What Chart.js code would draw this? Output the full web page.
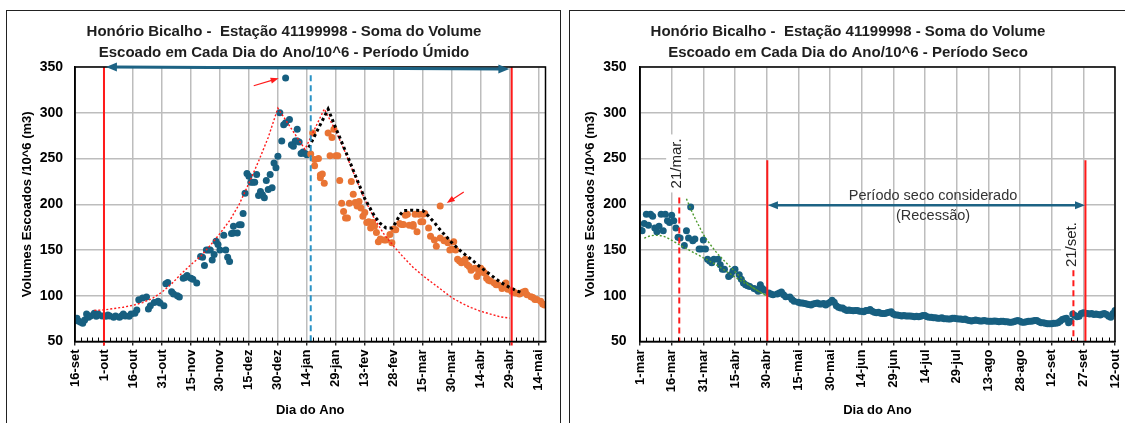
<!DOCTYPE html>
<html>
<head>
<meta charset="utf-8">
<script src="https://cdn.jsdelivr.net/npm/chart.js@4.4.0/dist/chart.umd.min.js"></script>
<style>
  html, body { margin: 0; padding: 0; background: #fff; }
  body { width: 1125px; height: 423px; position: relative; overflow: hidden; }
  canvas { position: absolute; top: 0; }
  #wet { left: 0; }
  #dry { left: 563px; }
  .panel { position: absolute; border: 1.5px solid #222; box-sizing: border-box; pointer-events: none; }
</style>
</head>
<body>
<canvas id="wet" width="563" height="423"></canvas>
<canvas id="dry" width="575" height="423"></canvas>
<div class="panel" style="left:6px;top:10px;width:555px;height:440px;"></div>
<div class="panel" style="left:569px;top:10px;width:570px;height:440px;"></div>
<script>
// ---------- Período úmido (day 0 = 16-set) ----------
const wetTickDays = [0, 15, 30, 45, 60, 75, 90, 105, 120, 135, 150, 165, 180, 195, 210, 225, 240];
const wetTickLabels = ['16-set', '1-out', '16-out', '31-out', '15-nov', '30-nov', '15-dez', '30-dez',
  '14-jan', '29-jan', '13-fev', '28-fev', '15-mar', '30-mar', '14-abr', '29-abr', '14-mai'];

const wetBlueDays = [0, 1, 2, 3, 4, 5, 6, 7, 8, 10, 11, 12, 14, 16, 17, 18, 20, 21, 23, 24, 25, 26, 28, 29, 31,
  32, 33, 35, 37, 38, 39, 41, 43, 44, 46, 47, 48, 50, 51, 53, 54, 56, 57, 58, 60, 61, 63, 65, 66, 67, 68, 69, 70,
  71, 72, 73, 74, 75, 77, 78, 79, 80, 81, 82, 82, 84, 85, 86, 87, 88, 89, 90, 91, 92, 93, 94, 95, 96, 97, 98, 99,
  100, 101, 102, 103, 104, 105, 106, 107, 108, 109, 109, 111, 112, 113, 114, 115, 115, 116, 117, 118, 119, 120];
const wetBlueVolumes = [73, 75.5, 72, 71, 70, 73.5, 80, 76.5, 78, 81, 77.5, 80, 78, 77.5, 79, 78, 76.5, 78, 76.5,
  78, 80, 78, 77.5, 80, 81, 84.5, 95.5, 97.5, 98.5, 85.5, 89, 92.5, 94, 92, 89, 113, 114.5, 104.5, 102, 100, 98.5,
  119, 120, 122, 119, 118, 114, 143, 142, 133, 150, 150, 150, 139, 145, 159.5, 156, 150, 166, 150, 142, 137.5,
  168, 168.5, 176, 168.5, 177.5, 177.5, 190, 212, 233.5, 230.5, 224, 224, 224, 232.5, 209.5, 214, 210.5, 207,
  226, 216, 232.5, 218, 245, 240, 252.5, 300, 269, 287, 338, 289, 292.5, 265, 263.5, 269, 282, 269, 268, 255.5,
  257, 255.5, 254];

const wetOrangeDays = [122, 123, 124, 124, 126, 127, 127, 128, 129, 131, 132, 133, 134, 135, 136, 137, 138, 139,
  140, 141, 142, 143, 144, 145, 146, 147, 148, 149, 150, 151, 152, 153, 154, 155, 156, 157, 158, 160, 161, 163,
  164, 165, 166, 168, 169, 170, 171, 172, 173, 175, 175, 176, 177, 178, 179, 180, 180, 181, 183, 184, 186, 187,
  189, 189, 191, 192, 193, 194, 195, 196, 197, 198, 199, 200, 201, 202, 203, 204, 205, 207, 208, 209, 210, 211,
  212, 213, 214, 215, 217, 218, 219, 221, 221, 223, 223, 224, 226, 227, 228, 230, 231, 232, 233, 234, 236, 237,
  238, 239, 241, 242, 243];
const wetOrangeVolumes = [255, 278, 249, 242, 250, 229, 232, 233, 223, 278, 253, 273, 282, 253, 253, 226, 201,
  192, 185, 185, 201, 225, 211, 202, 198, 203, 196, 187, 191, 180, 181, 174, 180, 176, 169, 159, 162, 161, 161,
  167, 158, 173, 172, 179, 178, 178, 188, 189, 177, 176, 178, 189, 170, 189, 181, 189, 181, 190, 174, 165, 161,
  154, 198, 163, 160, 161, 158, 150, 151, 159, 150, 140, 138, 136, 138, 140, 134, 132, 128, 130, 121, 125, 130,
  128, 125, 119, 117, 116, 114, 112, 112, 110, 108, 114, 110, 107, 105, 104, 103, 102, 103, 104, 105, 101, 99,
  98, 96, 96, 94, 91, 90];

// red dotted trend (rise, double peak, recession)
const wetTrendDays = [10, 15, 20, 25, 30, 35, 40, 45, 50, 55, 60, 65, 70, 75, 80, 85, 90, 95, 100, 105, 119, 129,
  135, 140, 145, 150, 155, 160, 165, 170, 175, 180, 185, 190, 195, 200, 205, 210, 215, 220, 225];
const wetTrendVolumes = [84, 84.5, 86, 87.5, 89.5, 92.5, 97, 104, 113, 124, 134, 143, 155, 168, 182, 200, 223,
  247, 273, 305, 260, 304, 280, 256, 230, 205, 184, 167, 154, 142, 131, 122, 114, 106, 98, 92, 87, 83, 80, 77, 75.5];

// black dotted upper envelope of the recession
const wetEnvelopeDays = [121, 126, 131, 135, 140, 145, 150, 155, 158, 161, 164, 166, 168, 170, 175, 180, 183, 186,
  189, 192, 195, 200, 205, 210, 215, 220, 225, 229, 232];
const wetEnvelopeVolumes = [262, 283, 304, 283, 258, 232, 206, 187, 179, 174, 174, 180, 188, 193, 193.5, 193, 187,
  180, 172, 165, 158, 148, 140, 131, 123, 115, 109, 105, 103];

const wetLimitDays = [15, 226];   // 1-out and end of the wet period
const wetSplitDay = 122;          // blue / orange split

// ---------- Período seco (day 0 = 1-mar) ----------
const dryTickDays = [0, 15, 30, 45, 60, 75, 90, 105, 120, 135, 150, 165, 180, 195, 210, 225];
const dryTickLabels = ['1-mar', '16-mar', '31-mar', '15-abr', '30-abr', '15-mai', '30-mai', '14-jun', '29-jun',
  '14-jul', '29-jul', '13-ago', '28-ago', '12-set', '27-set', '12-out'];

const dryEarlyDays = [0, 1, 2, 3, 4, 5, 6, 7, 8, 9, 10, 11, 12, 13, 14, 15, 16, 17, 18, 19, 21, 22, 23, 24, 25, 26,
  28, 29, 30, 31, 32, 33, 34, 35, 37, 38, 39, 40, 42, 43, 44, 45, 47, 48, 49, 50, 51, 52, 54, 55, 56, 57, 58, 59,
  61, 62, 63, 65, 66, 67, 68, 69, 71, 72, 73, 75];
const dryEarlyVolumes = [172, 171, 179, 189, 177, 189, 187, 174, 170, 176, 189, 171, 189, 182, 180, 188, 182, 174,
  164, 163, 155, 171, 163, 197, 160, 162, 151, 151, 161, 151, 140, 138, 136, 140, 140, 134, 129, 129, 121, 123,
  127, 129, 123, 118, 114, 112, 111, 110, 108, 107, 105, 112, 108, 106, 103, 102, 101, 102, 103, 104, 101, 99,
  98.5, 96, 94, 93];

// daily volumes from 16-mai (day 76) to 12-out (day 225)
const dryLateStart = 76;
const dryLateVolumes = [
  92, 92, 91.5, 91, 90.5, 90, 91, 91.5, 92, 91,
  91, 91.5, 90, 91.5, 93, 95, 93, 89, 87.5, 86.5,
  86.5, 85, 84, 84.5, 84, 83.5, 84, 84, 83, 83,
  82.5, 84, 84, 85, 83, 82, 81.5, 82, 81, 80.5,
  80.5, 81.5, 82, 82.5, 80, 79, 79, 78.5, 78, 78.5,
  78, 78, 78, 77.5, 77, 77.5, 77, 77.5, 78.5, 78.5,
  77, 76.5, 76.5, 76, 76, 75.5, 75.5, 76, 75, 75,
  74.5, 74.5, 75.5, 75.5, 75, 74.5, 74.5, 74, 74.5, 73.5,
  73, 72.5, 73, 73.5, 73, 72.5, 72.5, 73, 72.5, 72,
  72, 72, 72.5, 72, 71.5, 72, 72, 71.5, 71.5, 71,
  71, 71.5, 72.5, 73, 72, 71, 71, 71.5, 72, 72,
  72.5, 73, 73, 71.5, 70.5, 70.5, 70, 69.5, 69.5, 69.5,
  70, 70, 70.5, 72, 74, 75, 75.5, 70.5, 72, 80,
  78.5, 77, 77.5, 80.5, 81.5, 81, 80.5, 80, 80.5, 79.5,
  80, 79.5, 79, 80, 80.5, 79.5, 77.5, 76.5, 80.5, 84];

// green dotted recession fits
const dryFitLowDays = [2, 5, 8, 11, 14, 17, 20, 24, 28, 32, 36, 40, 44, 48, 52, 56, 60];
const dryFitLowVolumes = [163, 165.5, 166, 165, 162, 158, 154, 149, 144, 139, 134, 128, 122, 116, 111, 105, 100];
const dryFitHighDays = [22, 24, 26, 28, 30, 33, 36, 40, 43, 46, 50, 54, 57, 60];
const dryFitHighVolumes = [206, 195, 185, 176, 167, 157, 148, 138, 131, 124, 115, 108, 104, 100];

const dryLimitDays = [60.3, 211];     // 30-abr and 27-set
const dryEquinoxDays = [18.6, 205.3]; // 21/mar. and 21/set.
const dryEquinoxTops = [207.5, 128];

// ---------- drawing ----------
const FONT = "'Liberation Sans', Arial, sans-serif";
const BLUE = '#175f80';
const ORANGE = '#e97434';
const RED = '#ff1a1a';
const ARROW_BLUE = '#1d6384';
const Y_MIN = 50, Y_MAX = 350;

const xy = (days, vols) => days.map((d, i) => ({ x: d, y: vols[i] }));
const vline = (day, top, bottom) => [{ x: day, y: top }, { x: day, y: bottom }];
const dots = (data, color, order) => ({
  data, backgroundColor: color, borderColor: color, pointRadius: 3.5, pointBorderWidth: 0,
  showLine: false, order
});
const trace = (data, color, width, dash, order, extra) => Object.assign({
  data, borderColor: color, borderWidth: width, borderDash: dash, pointRadius: 0, showLine: true,
  fill: false, order, tension: 0
}, extra || {});

function head(ctx, x, y, ang, len, wid, color) {
  ctx.save();
  ctx.translate(x, y);
  ctx.rotate(ang);
  ctx.beginPath();
  ctx.moveTo(0, 0);
  ctx.lineTo(-len, wid / 2);
  ctx.lineTo(-len, -wid / 2);
  ctx.closePath();
  ctx.fillStyle = color;
  ctx.fill();
  ctx.restore();
}

const overlay = {
  id: 'overlay',
  beforeDatasetsDraw(chart, args, opts) {
    const { ctx, scales: { x, y } } = chart;
    ctx.save();
    for (const n of opts.notes || []) {
      const px = x.getPixelForValue(n.at[0]);
      const py = y.getPixelForValue(n.at[1]);
      if (n.box) {
        ctx.fillStyle = '#fff';
        ctx.fillRect(px - n.box[0] / 2, py - n.box[1] / 2, n.box[0], n.box[1]);
      }
      ctx.save();
      ctx.translate(px, py);
      if (n.rotate) ctx.rotate(-Math.PI / 2);
      ctx.font = n.font;
      ctx.fillStyle = n.color;
      ctx.textAlign = 'center';
      ctx.textBaseline = 'middle';
      ctx.fillText(n.text, 0, 0);
      ctx.restore();
    }
    ctx.restore();
  },
  afterDatasetsDraw(chart, args, opts) {
    const { ctx, chartArea: a, scales: { x, y } } = chart;
    ctx.save();
    // minor tick marks inside the plot, along the date axis
    ctx.strokeStyle = '#000';
    ctx.lineWidth = 1;
    for (let d = opts.minorStep; d < x.max; d += opts.minorStep) {
      if (d % opts.majorStep === 0) continue;
      const px = Math.round(x.getPixelForValue(d)) + 0.5;
      ctx.beginPath();
      ctx.moveTo(px, a.bottom);
      ctx.lineTo(px, a.bottom - 4);
      ctx.stroke();
    }
    // plot frame
    ctx.lineWidth = 1.5;
    ctx.strokeRect(a.left, a.top, a.right - a.left, a.bottom - a.top);
    // arrows
    for (const ar of opts.arrows || []) {
      const x0 = x.getPixelForValue(ar.from[0]), y0 = y.getPixelForValue(ar.from[1]);
      const x1 = x.getPixelForValue(ar.to[0]), y1 = y.getPixelForValue(ar.to[1]);
      const ang = Math.atan2(y1 - y0, x1 - x0);
      const c = Math.cos(ang), s = Math.sin(ang);
      const back = ar.head[0] * 0.7;
      ctx.strokeStyle = ar.color;
      ctx.lineWidth = ar.width;
      ctx.beginPath();
      ctx.moveTo(ar.both ? x0 + c * back : x0, ar.both ? y0 + s * back : y0);
      ctx.lineTo(x1 - c * back, y1 - s * back);
      ctx.stroke();
      head(ctx, x1, y1, ang, ar.head[0], ar.head[1], ar.color);
      if (ar.both) head(ctx, x0, y0, ang + Math.PI, ar.head[0], ar.head[1], ar.color);
    }
    ctx.restore();
  }
};

function buildPanel(id, p) {
  return new Chart(document.getElementById(id), {
    type: 'scatter',
    data: { datasets: p.datasets },
    plugins: [overlay],
    options: {
      responsive: false,
      animation: false,
      events: [],
      layout: { padding: { left: p.padLeft, right: p.padRight, top: 0, bottom: 0 } },
      plugins: {
        legend: { display: false },
        tooltip: { enabled: false },
        title: {
          display: true,
          text: p.title,
          color: '#1e1e1e',
          font: { family: FONT, size: 15, weight: 'bold', lineHeight: 1.4 },
          padding: { top: 21.5, bottom: 3.5 }
        },
        overlay: { minorStep: 3, majorStep: 15, arrows: p.arrows, notes: p.notes }
      },
      scales: {
        x: {
          type: 'linear',
          min: 0,
          max: p.xMax,
          afterBuildTicks: s => { s.ticks = p.tickDays.map(v => ({ value: v })); },
          afterFit: s => { s.height = 81.5; },
          ticks: {
            autoSkip: false,
            minRotation: 90,
            maxRotation: 90,
            padding: 4,
            color: '#000',
            font: { family: FONT, size: 13, weight: 'bold' },
            callback: (v, i) => p.tickLabels[i]
          },
          grid: { color: '#bdbdbd', lineWidth: 1.5, tickLength: 4, tickColor: '#000', tickWidth: 1.2 },
          border: { color: '#000', width: 1.5 },
          title: {
            display: true, text: 'Dia do Ano', color: '#000',
            font: { family: FONT, size: 13, weight: 'bold' },
            padding: { top: 0, bottom: 5 }
          }
        },
        y: {
          min: Y_MIN,
          max: Y_MAX,
          afterFit: s => { s.width = p.yWidth; },
          ticks: {
            stepSize: 50, padding: p.yTickPad, color: '#000',
            font: { family: FONT, size: 14, weight: 'bold' }
          },
          grid: { color: '#bdbdbd', lineWidth: 1.5, drawTicks: false },
          border: { color: '#000', width: 1.5 },
          title: {
            display: true, text: 'Volumes Escoados /10^6 (m3)', color: '#000',
            font: { family: FONT, size: 13, weight: 'bold' },
            padding: { top: p.yTitlePad, bottom: 0 }
          }
        }
      }
    }
  });
}

buildPanel('wet', {
  title: ['Honório Bicalho -  Estação 41199998 - Soma do Volume',
          'Escoado em Cada Dia do Ano/10^6 - Período Úmido'],
  tickDays: wetTickDays,
  tickLabels: wetTickLabels,
  xMax: 243.5,
  padLeft: 22.5,
  padRight: 17.5,
  yWidth: 52.5,
  yTickPad: 12,
  yTitlePad: -3.3,
  datasets: [
    trace(vline(wetLimitDays[0], Y_MAX, 45.5), RED, 2, [], 1, { clip: false }),
    trace(vline(wetLimitDays[1], Y_MAX, 45.5), RED, 2, [], 1, { clip: false }),
    trace(vline(wetSplitDay, 341, Y_MIN), '#2a93c6', 2, [6, 4], 2),
    trace(xy(wetEnvelopeDays, wetEnvelopeVolumes), '#000', 3, [3, 3], 3),
    trace(xy(wetTrendDays, wetTrendVolumes), RED, 1.4, [2, 2], 4),
    dots(xy(wetOrangeDays, wetOrangeVolumes), ORANGE, 5),
    dots(xy(wetBlueDays, wetBlueVolumes), BLUE, 6)
  ],
  arrows: [
    { from: [16, 350], to: [224.8, 347.8], color: ARROW_BLUE, width: 3, head: [11, 9], both: true },
    { from: [92.5, 329.5], to: [105.4, 337.6], color: RED, width: 1.2, head: [8, 6], both: false },
    { from: [201.2, 213.5], to: [192.4, 201.4], color: RED, width: 1.2, head: [8, 6], both: false }
  ],
  notes: []
});

buildPanel('dry', {
  title: ['Honório Bicalho -  Estação 41199998 - Soma do Volume',
          'Escoado em Cada Dia do Ano/10^6 - Período Seco'],
  tickDays: dryTickDays,
  tickLabels: dryTickLabels,
  xMax: 225,
  padLeft: 18,
  padRight: 23,
  yWidth: 59,
  yTickPad: 13.5,
  yTitlePad: 1.2,
  datasets: [
    trace(vline(dryLimitDays[0], 248, Y_MIN), RED, 2, [], 1),
    trace(vline(dryLimitDays[1], 248, Y_MIN), RED, 2, [], 1),
    trace(vline(dryEquinoxDays[0], dryEquinoxTops[0], Y_MIN), RED, 2, [6, 4], 2),
    trace(vline(dryEquinoxDays[1], dryEquinoxTops[1], Y_MIN), RED, 2, [6, 4], 2),
    trace(xy(dryFitLowDays, dryFitLowVolumes), '#4e9a2e', 1.4, [2, 2], 3, { cubicInterpolationMode: 'monotone' }),
    trace(xy(dryFitHighDays, dryFitHighVolumes), '#4e9a2e', 1.4, [2, 2], 3, { cubicInterpolationMode: 'monotone' }),
    dots(xy(dryEarlyDays, dryEarlyVolumes), BLUE, 5),
    dots(dryLateVolumes.map((v, i) => ({ x: dryLateStart + i, y: v })), BLUE, 5)
  ],
  arrows: [
    { from: [60.6, 199], to: [210.8, 199], color: ARROW_BLUE, width: 2.5, head: [10, 8], both: true }
  ],
  notes: [
    { text: '21/mar.', at: [17.6, 244.6], rotate: true, box: [22, 58], font: '15px ' + FONT, color: '#262626' },
    { text: '21/set.', at: [204.6, 155.9], rotate: true, box: [22, 52], font: '15px ' + FONT, color: '#262626' },
    { text: 'Período seco considerado', at: [138.8, 209.5], font: '14.5px ' + FONT, color: '#333' },
    { text: '(Recessão)', at: [138.8, 187.1], font: '14.5px ' + FONT, color: '#333' }
  ]
});
</script>
</body>
</html>
